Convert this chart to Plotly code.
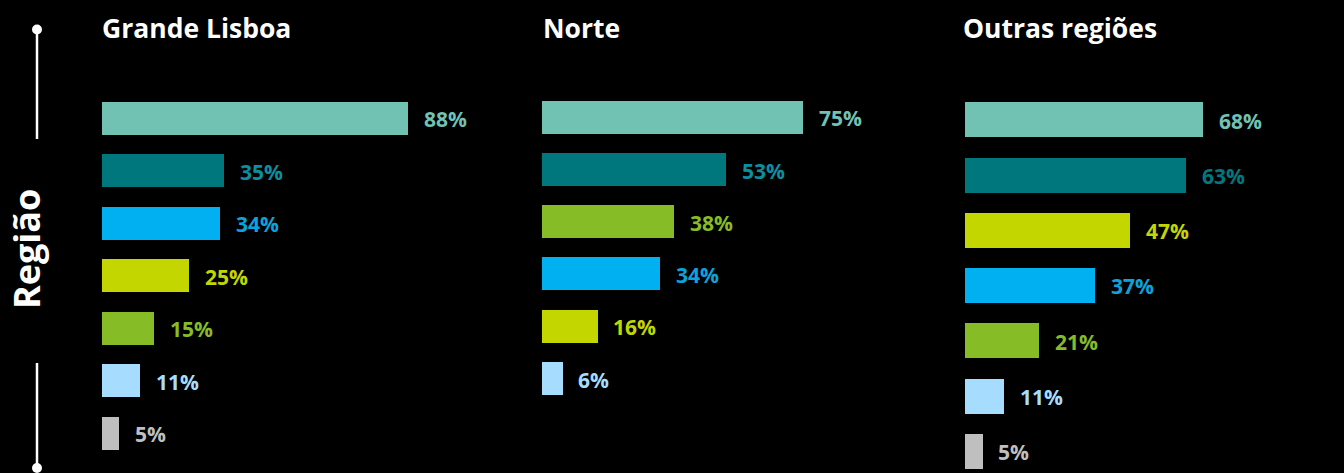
import plotly.graph_objects as go

W, H = 1344, 473

# Region panels: titles, values (%) and bar colours, top to bottom
regions = ["Grande Lisboa", "Norte", "Outras regiões"]

lisboa_values = [88, 35, 34, 25, 15, 11, 5]
norte_values = [75, 53, 38, 34, 16, 6]
outras_values = [68, 63, 47, 37, 21, 11, 5]

LT, DT, BL, YG, GR, LB, GY = "#72C2B4", "#00767D", "#00B0F0", "#C4D600", "#86BC25", "#A6DDFE", "#BFBFBF"

lisboa_colors = [LT, DT, BL, YG, GR, LB, GY]
norte_colors = [LT, DT, GR, BL, YG, LB]
outras_colors = [LT, DT, YG, BL, GR, LB, GY]

lisboa_label_colors = [LT, "#0C8FA0", "#0AA3DE", YG, GR, LB, GY]
norte_label_colors = [LT, "#0C8FA0", GR, "#0AA3DE", YG, LB]
outras_label_colors = [LT, "#00787F", YG, "#0AA3DE", GR, LB, GY]

# Panel geometry in pixels: left edge, px per %, first bar centre, row pitch, bar height
panels = [
    dict(values=lisboa_values, colors=lisboa_colors, lcolors=lisboa_label_colors,
         x0=102, kx=3.477, c0=118.4, pitch=52.5, bh=33, title_x=100),
    dict(values=norte_values, colors=norte_colors, lcolors=norte_label_colors,
         x0=541.5, kx=3.48, c0=117.3, pitch=52.25, bh=33, title_x=541),
    dict(values=outras_values, colors=outras_colors, lcolors=outras_label_colors,
         x0=965, kx=3.5, c0=119.5, pitch=55.33, bh=35, title_x=961),
]

FONT = "Open Sans"
fig = go.Figure()
annotations = []
layout_axes = {}

for i, p in enumerate(panels):
    n = len(p["values"])
    xa = "x" if i == 0 else f"x{i+1}"
    ya = "y" if i == 0 else f"y{i+1}"
    fig.add_trace(go.Bar(
        x=p["values"], y=list(range(n)), orientation="h",
        marker=dict(color=p["colors"], line=dict(width=0)),
        width=p["bh"] / p["pitch"],
        xaxis=xa, yaxis=ya, hoverinfo="skip", showlegend=False,
    ))
    x_left = p["x0"]
    x_right = p["x0"] + 100 * p["kx"]
    top_px = p["c0"] - p["pitch"] / 2
    bot_px = min(H, p["c0"] + (n - 0.5) * p["pitch"])
    y_hi = (bot_px - top_px) / p["pitch"] - 0.5
    axis_style = dict(visible=False, showgrid=False, zeroline=False, fixedrange=True)
    layout_axes["xaxis" if i == 0 else f"xaxis{i+1}"] = dict(
        domain=[x_left / W, x_right / W], range=[0, 100], anchor=ya, **axis_style)
    layout_axes["yaxis" if i == 0 else f"yaxis{i+1}"] = dict(
        domain=[(H - bot_px) / H, (H - top_px) / H], range=[y_hi, -0.5], anchor=xa, **axis_style)

    for j, (v, lc) in enumerate(zip(p["values"], p["lcolors"])):
        annotations.append(dict(
            x=v, y=j, xref=xa, yref=ya, text=f"<b>{v}%</b>",
            xanchor="left", yanchor="middle", xshift=14, yshift=-1, showarrow=False,
            font=dict(family=FONT, size=21, color=lc),
        ))

    annotations.append(dict(
        x=p["title_x"] / W, y=1 - 28 / H, xref="paper", yref="paper",
        text=f"<b>{regions[i]}</b>", xanchor="left", yanchor="middle", showarrow=False,
        font=dict(family=FONT, size=26.5, color="#FFFFFF"),
    ))

# Side label for the region dimension
annotations.append(dict(
    x=27 / W, y=1 - 249 / H, xref="paper", yref="paper", text="<b>Região</b>",
    textangle=-90, xanchor="center", yanchor="middle", showarrow=False,
    font=dict(family=FONT, size=36, color="#FFFFFF"),
))

lx = 37 / W
shapes = [
    dict(type="line", xref="paper", yref="paper", x0=lx, x1=lx,
         y0=1 - 30 / H, y1=1 - 139 / H, line=dict(color="#FFFFFF", width=2.5)),
    dict(type="line", xref="paper", yref="paper", x0=lx, x1=lx,
         y0=1 - 363 / H, y1=1 - 467 / H, line=dict(color="#FFFFFF", width=2.5)),
]
for cy in (29.5, 468):
    shapes.append(dict(type="circle", xref="paper", yref="paper",
                       x0=(37 - 5) / W, x1=(37 + 5) / W,
                       y0=1 - (cy + 5) / H, y1=1 - (cy - 5) / H,
                       fillcolor="#FFFFFF", line=dict(width=0)))

fig.update_layout(
    width=W, height=H, margin=dict(l=0, r=0, t=0, b=0),
    paper_bgcolor="#000000", plot_bgcolor="#000000",
    annotations=annotations, shapes=shapes, bargap=0,
    **layout_axes,
)

fig.write_html("out.html", config={"displayModeBar": False})
